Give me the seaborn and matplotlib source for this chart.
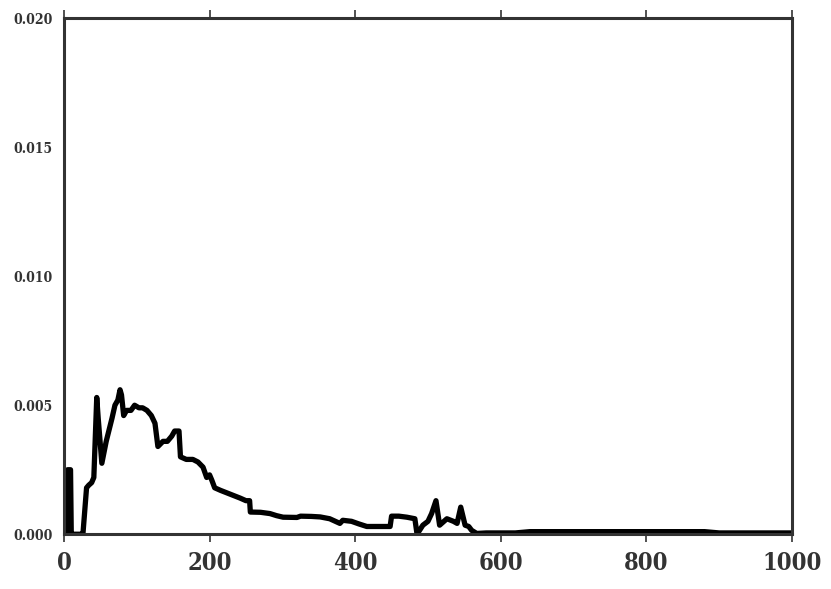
import numpy as np
import matplotlib
matplotlib.use("Agg")
import matplotlib.pyplot as plt
import seaborn as sns
import pandas as pd

# values
x = [0, 4, 5, 9, 10, 12, 22, 26, 31, 34, 38, 41, 45, 47, 52, 58, 66, 70, 74, 77, 79, 82,
     86, 92, 97, 103, 108, 114, 120, 125, 129, 136, 142, 148, 152, 158, 160, 168, 177,
     184, 191, 196, 200, 203, 207, 215, 224, 233, 242, 250, 255, 256, 270, 283, 292, 301,
     320, 325, 340, 352, 365, 379, 383, 395, 405, 416, 430, 448, 450, 460, 471, 482, 485,
     493, 500, 505, 511, 516, 526, 535, 540, 545, 551, 556, 560, 567, 580, 620, 640, 700,
     800, 880, 900, 1000]
y = [0.0, 0.0, 0.0025, 0.0025, 0.0, 0.0, 0.0, 0.0, 0.0018, 0.0019, 0.0020, 0.0022, 0.0053,
     0.0045, 0.00275, 0.0036, 0.0045, 0.0050, 0.0052, 0.0056, 0.0054, 0.0046,
     0.0048, 0.0048, 0.0050, 0.0049, 0.0049, 0.0048, 0.0046, 0.0043, 0.0034, 0.0036,
     0.0036, 0.0038, 0.0040, 0.0040, 0.0030, 0.0029, 0.0029,
     0.0028, 0.0026, 0.0022, 0.0023, 0.0021, 0.0018, 0.0017, 0.0016, 0.0015, 0.0014, 0.0013, 0.0013, 0.00086, 0.00085, 0.0008, 0.00072, 0.00066,
     0.00065, 0.0007, 0.00069, 0.00067, 0.0006, 0.00042, 0.00054, 0.0005, 0.0004, 0.0003, 0.0003, 0.0003, 0.0007, 0.0007, 0.00066, 0.0006, 0.0,
     0.00035, 0.0005, 0.0008, 0.0013, 0.00035, 0.0006, 0.0005, 0.00042, 0.00105, 0.00035, 0.0003, 0.00015, 0.00003, 0.00005, 0.00005, 0.0001, 0.0001,
     0.0001, 0.0001, 0.00005, 0.00005]

x_ticks = [0, 200, 400, 600, 800, 1000]
y_ticks = [0.000, 0.005, 0.010, 0.015, 0.020]

sns.set_style("white")
plt.rcParams['font.family'] = ['DejaVu Serif']
plt.rcParams['font.stretch'] = 'condensed'
plt.rcParams['font.weight'] = 'bold'

fig, ax = plt.subplots(figsize=(8.31, 5.89), dpi=100)
df = pd.DataFrame({'x': x, 'y': y})
sns.lineplot(data=df, x='x', y='y', color='black', linewidth=3.8, ax=ax)

ax.set_xlim(0, 1000)
ax.set_ylim(0, 0.020)
ax.set_xticks(x_ticks)
ax.set_yticks(y_ticks)
ax.set_xticklabels([str(t) for t in x_ticks], fontsize=17, fontweight='bold', color='#333333')
ax.set_yticklabels(['%.3f' % t for t in y_ticks], fontsize=10, fontweight='bold', color='#333333')
ax.tick_params(axis='x', which='both', direction='out', length=6, width=1.2, color='#333333',
               top=True, bottom=True, pad=6)
ax.tick_params(axis='y', length=0, pad=8)
ax.set_xlabel('')
ax.set_ylabel('')
for s in ax.spines.values():
    s.set_color('#333333')
    s.set_linewidth(2.2)
    s.set_visible(True)

fig.subplots_adjust(left=0.077, right=0.953, top=0.969, bottom=0.093)
fig.savefig('out.png', dpi=100)
